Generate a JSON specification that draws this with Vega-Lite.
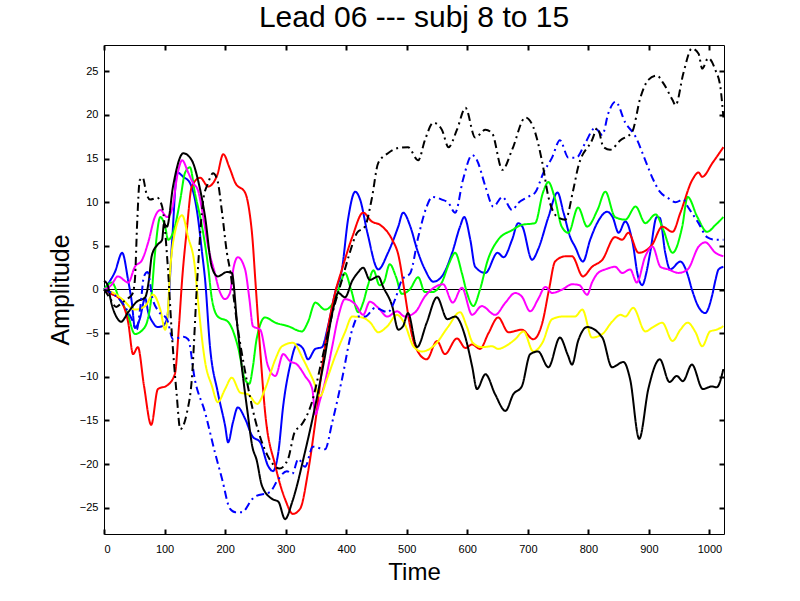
{
"$schema":"https://vega.github.io/schema/vega-lite/v6.json",
"width":620,"height":489,
"autosize":{"type":"none"},
"padding":{"left":104,"top":45,"right":76,"bottom":67},
"background":"white",
"title":{"text":"Lead 06 --- subj 8 to 15","font":"Liberation Sans","fontSize":30,"fontWeight":"normal","color":"black","anchor":"middle","offset":11},
"config":{
 "view":{"stroke":"black","strokeWidth":1}
},
"data":{"values":[
{"s":"b","t":0,"v":0},{"s":"b","t":10,"v":1},{"s":"b","t":18,"v":2},{"s":"b","t":30,"v":4.2},{"s":"b","t":40,"v":1},{"s":"b","t":46,"v":-1.5},{"s":"b","t":51,"v":-4.4},{"s":"b","t":59,"v":-3.4},{"s":"b","t":68,"v":-1},{"s":"b","t":73,"v":-2.6},{"s":"b","t":81,"v":-3.8},{"s":"b","t":88,"v":-4.3},{"s":"b","t":96,"v":-4.2},{"s":"b","t":104,"v":-3.4},{"s":"b","t":112,"v":5},{"s":"b","t":121,"v":13.4},{"s":"b","t":131,"v":12.9},{"s":"b","t":142,"v":12.2},{"s":"b","t":154,"v":8.8},{"s":"b","t":162,"v":4.2},{"s":"b","t":167,"v":1.1},{"s":"b","t":175,"v":-6.5},{"s":"b","t":188,"v":-11.8},{"s":"b","t":200,"v":-15.6},{"s":"b","t":205,"v":-17.5},{"s":"b","t":213,"v":-15.2},{"s":"b","t":221,"v":-13.5},{"s":"b","t":233,"v":-14.8},{"s":"b","t":245,"v":-16.8},{"s":"b","t":258,"v":-17.5},{"s":"b","t":271,"v":-20.2},{"s":"b","t":279,"v":-20.8},{"s":"b","t":288,"v":-18.6},{"s":"b","t":296,"v":-13.3},{"s":"b","t":307,"v":-8.8},{"s":"b","t":319,"v":-6.3},{"s":"b","t":329,"v":-6.8},{"s":"b","t":337,"v":-8},{"s":"b","t":349,"v":-6.8},{"s":"b","t":360,"v":-6.6},{"s":"b","t":370,"v":-4.2},{"s":"b","t":382,"v":-0.3},{"s":"b","t":393,"v":2.3},{"s":"b","t":403,"v":8},{"s":"b","t":415,"v":11.2},{"s":"b","t":423,"v":10.3},{"s":"b","t":435,"v":6.5},{"s":"b","t":453,"v":2.3},{"s":"b","t":469,"v":4.2},{"s":"b","t":486,"v":7.2},{"s":"b","t":494,"v":8.8},{"s":"b","t":506,"v":7.2},{"s":"b","t":517,"v":4.6},{"s":"b","t":530,"v":2.3},{"s":"b","t":544,"v":0.9},{"s":"b","t":558,"v":1.5},{"s":"b","t":575,"v":4.2},{"s":"b","t":588,"v":7.2},{"s":"b","t":595,"v":8.3},{"s":"b","t":605,"v":5.7},{"s":"b","t":613,"v":2.6},{"s":"b","t":630,"v":1.9},{"s":"b","t":650,"v":4.2},{"s":"b","t":660,"v":3.7},{"s":"b","t":674,"v":5.7},{"s":"b","t":684,"v":7.6},{"s":"b","t":691,"v":7.2},{"s":"b","t":707,"v":3.4},{"s":"b","t":717,"v":4.6},{"s":"b","t":734,"v":8.3},{"s":"b","t":749,"v":11.1},{"s":"b","t":759,"v":8.8},{"s":"b","t":770,"v":6},{"s":"b","t":778,"v":4.9},{"s":"b","t":791,"v":3.2},{"s":"b","t":803,"v":5.7},{"s":"b","t":816,"v":7.8},{"s":"b","t":831,"v":8.9},{"s":"b","t":840,"v":8.3},{"s":"b","t":850,"v":6.5},{"s":"b","t":861,"v":7.8},{"s":"b","t":873,"v":5.4},{"s":"b","t":882,"v":1.5},{"s":"b","t":889,"v":0.5},{"s":"b","t":896,"v":2},{"s":"b","t":902,"v":4.2},{"s":"b","t":913,"v":8.3},{"s":"b","t":918,"v":8.2},{"s":"b","t":927,"v":4.2},{"s":"b","t":935,"v":2.3},{"s":"b","t":952,"v":3.2},{"s":"b","t":963,"v":1.9},{"s":"b","t":971,"v":0},{"s":"b","t":982,"v":-2},{"s":"b","t":993,"v":-2.7},{"s":"b","t":1004,"v":-0.8},{"s":"b","t":1010,"v":1.1},{"s":"b","t":1015,"v":2.3},{"s":"b","t":1023,"v":2.6},
{"s":"g","t":0,"v":0},{"s":"g","t":13,"v":0.8},{"s":"g","t":25,"v":-1},{"s":"g","t":38,"v":-2.6},{"s":"g","t":51,"v":-5.1},{"s":"g","t":64,"v":-4.6},{"s":"g","t":72,"v":-3.5},{"s":"g","t":78,"v":-1},{"s":"g","t":84,"v":4},{"s":"g","t":93,"v":8.3},{"s":"g","t":101,"v":7.2},{"s":"g","t":106,"v":5.7},{"s":"g","t":117,"v":7.2},{"s":"g","t":126,"v":10.3},{"s":"g","t":134,"v":13.4},{"s":"g","t":142,"v":14},{"s":"g","t":150,"v":11.1},{"s":"g","t":162,"v":7.2},{"s":"g","t":172,"v":2.6},{"s":"g","t":178,"v":-1},{"s":"g","t":188,"v":-3.1},{"s":"g","t":205,"v":-3.7},{"s":"g","t":221,"v":-6.5},{"s":"g","t":233,"v":-10.3},{"s":"g","t":240,"v":-10.8},{"s":"g","t":246,"v":-8.8},{"s":"g","t":252,"v":-5.7},{"s":"g","t":266,"v":-3.2},{"s":"g","t":283,"v":-3.8},{"s":"g","t":304,"v":-4.2},{"s":"g","t":327,"v":-4.8},{"s":"g","t":337,"v":-3.7},{"s":"g","t":349,"v":-1.5},{"s":"g","t":365,"v":-2.3},{"s":"g","t":382,"v":-1.1},{"s":"g","t":392,"v":1},{"s":"g","t":398,"v":1.9},{"s":"g","t":408,"v":0},{"s":"g","t":420,"v":-2.6},{"s":"g","t":428,"v":-1.5},{"s":"g","t":436,"v":0.5},{"s":"g","t":445,"v":2.2},{"s":"g","t":455,"v":0.5},{"s":"g","t":462,"v":0.8},{"s":"g","t":472,"v":2.9},{"s":"g","t":482,"v":1.5},{"s":"g","t":492,"v":-0.5},{"s":"g","t":505,"v":0},{"s":"g","t":519,"v":1.4},{"s":"g","t":530,"v":-0.3},{"s":"g","t":542,"v":-0.3},{"s":"g","t":558,"v":0.8},{"s":"g","t":570,"v":3},{"s":"g","t":580,"v":4.2},{"s":"g","t":591,"v":1.9},{"s":"g","t":600,"v":-0.5},{"s":"g","t":610,"v":-1.9},{"s":"g","t":621,"v":0},{"s":"g","t":634,"v":3.4},{"s":"g","t":651,"v":5.7},{"s":"g","t":674,"v":6.8},{"s":"g","t":690,"v":7.4},{"s":"g","t":712,"v":7.6},{"s":"g","t":725,"v":11.1},{"s":"g","t":734,"v":12.3},{"s":"g","t":744,"v":10.6},{"s":"g","t":756,"v":7.2},{"s":"g","t":767,"v":6.5},{"s":"g","t":783,"v":9.4},{"s":"g","t":798,"v":7.2},{"s":"g","t":815,"v":9.1},{"s":"g","t":828,"v":11.2},{"s":"g","t":844,"v":8.3},{"s":"g","t":861,"v":8},{"s":"g","t":878,"v":9.5},{"s":"g","t":894,"v":7.6},{"s":"g","t":911,"v":8.6},{"s":"g","t":924,"v":6.8},{"s":"g","t":939,"v":4.2},{"s":"g","t":955,"v":7.2},{"s":"g","t":964,"v":10.6},{"s":"g","t":980,"v":8.3},{"s":"g","t":996,"v":6.6},{"s":"g","t":1010,"v":7.4},{"s":"g","t":1023,"v":8.3},
{"s":"r","t":0,"v":0},{"s":"r","t":12,"v":-0.5},{"s":"r","t":26,"v":-1.1},{"s":"r","t":33,"v":-2},{"s":"r","t":40,"v":-3.8},{"s":"r","t":48,"v":-7.4},{"s":"r","t":56,"v":-6.6},{"s":"r","t":66,"v":-11},{"s":"r","t":78,"v":-15.5},{"s":"r","t":89,"v":-11.4},{"s":"r","t":104,"v":-11},{"s":"r","t":117,"v":-9.7},{"s":"r","t":124,"v":-4},{"s":"r","t":129,"v":1.1},{"s":"r","t":137,"v":7},{"s":"r","t":145,"v":11.8},{"s":"r","t":159,"v":12.8},{"s":"r","t":172,"v":11.8},{"s":"r","t":187,"v":13.1},{"s":"r","t":197,"v":15.5},{"s":"r","t":207,"v":14},{"s":"r","t":217,"v":12.2},{"s":"r","t":233,"v":11.1},{"s":"r","t":240,"v":9},{"s":"r","t":245,"v":6},{"s":"r","t":250,"v":1},{"s":"r","t":258,"v":-7},{"s":"r","t":266,"v":-14},{"s":"r","t":283,"v":-20.2},{"s":"r","t":299,"v":-24},{"s":"r","t":312,"v":-25.7},{"s":"r","t":324,"v":-25.1},{"s":"r","t":337,"v":-20.9},{"s":"r","t":349,"v":-15.2},{"s":"r","t":365,"v":-6.5},{"s":"r","t":382,"v":-0.3},{"s":"r","t":393,"v":2.3},{"s":"r","t":410,"v":6},{"s":"r","t":428,"v":8.8},{"s":"r","t":442,"v":7.8},{"s":"r","t":456,"v":7.4},{"s":"r","t":476,"v":5.7},{"s":"r","t":486,"v":4},{"s":"r","t":497,"v":-0.5},{"s":"r","t":505,"v":-4},{"s":"r","t":514,"v":-6.5},{"s":"r","t":533,"v":-8},{"s":"r","t":550,"v":-5.9},{"s":"r","t":563,"v":-7.4},{"s":"r","t":583,"v":-5.6},{"s":"r","t":597,"v":-6.7},{"s":"r","t":608,"v":-6.3},{"s":"r","t":621,"v":-6.8},{"s":"r","t":635,"v":-5},{"s":"r","t":651,"v":-3.2},{"s":"r","t":668,"v":-4.9},{"s":"r","t":690,"v":-4.6},{"s":"r","t":709,"v":-5.7},{"s":"r","t":724,"v":-3.8},{"s":"r","t":735,"v":0},{"s":"r","t":745,"v":3.2},{"s":"r","t":762,"v":3.8},{"s":"r","t":773,"v":3.8},{"s":"r","t":791,"v":1.5},{"s":"r","t":806,"v":2.6},{"s":"r","t":823,"v":3.4},{"s":"r","t":844,"v":6},{"s":"r","t":856,"v":5.7},{"s":"r","t":866,"v":6.5},{"s":"r","t":883,"v":4.2},{"s":"r","t":905,"v":5.1},{"s":"r","t":922,"v":7.2},{"s":"r","t":939,"v":6.6},{"s":"r","t":952,"v":8.8},{"s":"r","t":972,"v":12.6},{"s":"r","t":982,"v":13.4},{"s":"r","t":988,"v":12.9},{"s":"r","t":1005,"v":14.5},{"s":"r","t":1023,"v":16.3},
{"s":"m","t":0,"v":0},{"s":"m","t":12,"v":0.5},{"s":"m","t":23,"v":1.5},{"s":"m","t":40,"v":0.8},{"s":"m","t":51,"v":2.6},{"s":"m","t":63,"v":3.4},{"s":"m","t":73,"v":5.4},{"s":"m","t":84,"v":8.3},{"s":"m","t":93,"v":9.1},{"s":"m","t":104,"v":8.3},{"s":"m","t":112,"v":9.1},{"s":"m","t":122,"v":13.4},{"s":"m","t":129,"v":14.8},{"s":"m","t":139,"v":13.4},{"s":"m","t":147,"v":12.2},{"s":"m","t":155,"v":11.4},{"s":"m","t":164,"v":8.3},{"s":"m","t":172,"v":4.9},{"s":"m","t":183,"v":1.9},{"s":"m","t":190,"v":0},{"s":"m","t":200,"v":-1.1},{"s":"m","t":208,"v":-0.4},{"s":"m","t":214,"v":2.5},{"s":"m","t":221,"v":3.7},{"s":"m","t":233,"v":2.3},{"s":"m","t":240,"v":-1},{"s":"m","t":246,"v":-4.2},{"s":"m","t":258,"v":-4.6},{"s":"m","t":271,"v":-8.8},{"s":"m","t":283,"v":-9.9},{"s":"m","t":296,"v":-7.4},{"s":"m","t":307,"v":-8.2},{"s":"m","t":319,"v":-8.6},{"s":"m","t":332,"v":-9.9},{"s":"m","t":344,"v":-11.4},{"s":"m","t":349,"v":-14.3},{"s":"m","t":357,"v":-12.6},{"s":"m","t":365,"v":-10.6},{"s":"m","t":377,"v":-6.5},{"s":"m","t":387,"v":-3.1},{"s":"m","t":398,"v":-1.1},{"s":"m","t":415,"v":-1.7},{"s":"m","t":428,"v":-2.9},{"s":"m","t":439,"v":-1.4},{"s":"m","t":453,"v":-2.1},{"s":"m","t":468,"v":-3.1},{"s":"m","t":484,"v":-2.5},{"s":"m","t":497,"v":-3.1},{"s":"m","t":514,"v":-2.6},{"s":"m","t":530,"v":-0.8},{"s":"m","t":547,"v":0.3},{"s":"m","t":560,"v":0.6},{"s":"m","t":576,"v":-1.5},{"s":"m","t":591,"v":0.2},{"s":"m","t":608,"v":-2.9},{"s":"m","t":624,"v":-1.9},{"s":"m","t":646,"v":-2.9},{"s":"m","t":663,"v":-1.5},{"s":"m","t":679,"v":-0.4},{"s":"m","t":690,"v":-0.8},{"s":"m","t":704,"v":-2.5},{"s":"m","t":717,"v":-1.1},{"s":"m","t":729,"v":0.3},{"s":"m","t":740,"v":-0.4},{"s":"m","t":757,"v":0},{"s":"m","t":773,"v":0.6},{"s":"m","t":785,"v":0.5},{"s":"m","t":798,"v":-0.6},{"s":"m","t":806,"v":0.8},{"s":"m","t":816,"v":1.9},{"s":"m","t":828,"v":2.3},{"s":"m","t":844,"v":2.6},{"s":"m","t":856,"v":1.9},{"s":"m","t":869,"v":2.3},{"s":"m","t":880,"v":0.8},{"s":"m","t":894,"v":3.8},{"s":"m","t":906,"v":4.9},{"s":"m","t":919,"v":2.6},{"s":"m","t":932,"v":2.3},{"s":"m","t":949,"v":1.9},{"s":"m","t":964,"v":2.3},{"s":"m","t":982,"v":4.9},{"s":"m","t":993,"v":5.4},{"s":"m","t":1010,"v":4.2},{"s":"m","t":1023,"v":3.8},
{"s":"y","t":0,"v":0},{"s":"y","t":13,"v":-0.3},{"s":"y","t":30,"v":-1.1},{"s":"y","t":51,"v":-2.3},{"s":"y","t":68,"v":-1.9},{"s":"y","t":81,"v":-0.6},{"s":"y","t":93,"v":-2.3},{"s":"y","t":101,"v":-4.6},{"s":"y","t":105,"v":-3},{"s":"y","t":109,"v":1.9},{"s":"y","t":117,"v":6.5},{"s":"y","t":129,"v":8.5},{"s":"y","t":139,"v":6},{"s":"y","t":150,"v":2.6},{"s":"y","t":155,"v":-1.1},{"s":"y","t":167,"v":-8.3},{"s":"y","t":178,"v":-11},{"s":"y","t":188,"v":-12.9},{"s":"y","t":200,"v":-11.4},{"s":"y","t":211,"v":-10.1},{"s":"y","t":225,"v":-11.8},{"s":"y","t":238,"v":-12},{"s":"y","t":253,"v":-13.1},{"s":"y","t":266,"v":-11.4},{"s":"y","t":283,"v":-8},{"s":"y","t":294,"v":-6.5},{"s":"y","t":312,"v":-6.1},{"s":"y","t":329,"v":-8},{"s":"y","t":345,"v":-10.3},{"s":"y","t":357,"v":-12.2},{"s":"y","t":368,"v":-10.3},{"s":"y","t":382,"v":-7.6},{"s":"y","t":398,"v":-4.9},{"s":"y","t":410,"v":-3.1},{"s":"y","t":426,"v":-3.2},{"s":"y","t":440,"v":-3.8},{"s":"y","t":453,"v":-4.9},{"s":"y","t":468,"v":-4.2},{"s":"y","t":484,"v":-2.9},{"s":"y","t":497,"v":-4},{"s":"y","t":511,"v":-6.5},{"s":"y","t":525,"v":-7.1},{"s":"y","t":547,"v":-6.3},{"s":"y","t":568,"v":-4.3},{"s":"y","t":588,"v":-2.6},{"s":"y","t":599,"v":-4.2},{"s":"y","t":609,"v":-6.1},{"s":"y","t":624,"v":-6.6},{"s":"y","t":641,"v":-6.5},{"s":"y","t":651,"v":-6.8},{"s":"y","t":663,"v":-6.5},{"s":"y","t":679,"v":-5.7},{"s":"y","t":693,"v":-4.8},{"s":"y","t":709,"v":-7.1},{"s":"y","t":724,"v":-6.1},{"s":"y","t":740,"v":-3.4},{"s":"y","t":757,"v":-3.1},{"s":"y","t":778,"v":-3.1},{"s":"y","t":790,"v":-2.3},{"s":"y","t":806,"v":-5.5},{"s":"y","t":823,"v":-5.1},{"s":"y","t":839,"v":-3.7},{"s":"y","t":853,"v":-2.9},{"s":"y","t":861,"v":-3.1},{"s":"y","t":874,"v":-2.1},{"s":"y","t":894,"v":-4.8},{"s":"y","t":907,"v":-4.3},{"s":"y","t":922,"v":-3.8},{"s":"y","t":939,"v":-5.9},{"s":"y","t":952,"v":-4.6},{"s":"y","t":964,"v":-3.8},{"s":"y","t":977,"v":-4.9},{"s":"y","t":988,"v":-6.5},{"s":"y","t":1001,"v":-4.8},{"s":"y","t":1012,"v":-4.6},{"s":"y","t":1023,"v":-4.2},
{"s":"k","t":0,"v":1},{"s":"k","t":6,"v":0.5},{"s":"k","t":12,"v":-1.5},{"s":"k","t":23,"v":-3.4},{"s":"k","t":28,"v":-3.7},{"s":"k","t":40,"v":-2.6},{"s":"k","t":54,"v":-1.4},{"s":"k","t":68,"v":-0.9},{"s":"k","t":74,"v":1},{"s":"k","t":79,"v":3.9},{"s":"k","t":88,"v":5.1},{"s":"k","t":96,"v":5.7},{"s":"k","t":99,"v":7.5},{"s":"k","t":104,"v":7.2},{"s":"k","t":114,"v":11.8},{"s":"k","t":131,"v":15.6},{"s":"k","t":145,"v":14.8},{"s":"k","t":155,"v":12.6},{"s":"k","t":167,"v":8.3},{"s":"k","t":178,"v":2.6},{"s":"k","t":188,"v":1.5},{"s":"k","t":203,"v":2},{"s":"k","t":211,"v":1.9},{"s":"k","t":220,"v":-4},{"s":"k","t":228,"v":-9.1},{"s":"k","t":237,"v":-14},{"s":"k","t":245,"v":-18},{"s":"k","t":252,"v":-19.5},{"s":"k","t":261,"v":-22.5},{"s":"k","t":278,"v":-24},{"s":"k","t":288,"v":-24.3},{"s":"k","t":299,"v":-26.3},{"s":"k","t":311,"v":-24.3},{"s":"k","t":332,"v":-18.6},{"s":"k","t":349,"v":-13.3},{"s":"k","t":365,"v":-7.6},{"s":"k","t":377,"v":-2.7},{"s":"k","t":387,"v":-0.4},{"s":"k","t":398,"v":-0.9},{"s":"k","t":410,"v":1},{"s":"k","t":420,"v":2},{"s":"k","t":428,"v":2.5},{"s":"k","t":439,"v":1.1},{"s":"k","t":453,"v":1.5},{"s":"k","t":461,"v":0.3},{"s":"k","t":476,"v":-1.9},{"s":"k","t":486,"v":-4.6},{"s":"k","t":494,"v":-4.2},{"s":"k","t":502,"v":-2.7},{"s":"k","t":517,"v":-6.6},{"s":"k","t":533,"v":-3.8},{"s":"k","t":550,"v":-0.9},{"s":"k","t":567,"v":-3.4},{"s":"k","t":580,"v":-3.1},{"s":"k","t":597,"v":-5.5},{"s":"k","t":608,"v":-8.8},{"s":"k","t":616,"v":-11.4},{"s":"k","t":630,"v":-9.7},{"s":"k","t":646,"v":-12},{"s":"k","t":663,"v":-13.9},{"s":"k","t":676,"v":-12},{"s":"k","t":690,"v":-11.1},{"s":"k","t":704,"v":-7.4},{"s":"k","t":717,"v":-7.1},{"s":"k","t":734,"v":-8.9},{"s":"k","t":753,"v":-5.5},{"s":"k","t":766,"v":-7.5},{"s":"k","t":773,"v":-8.6},{"s":"k","t":783,"v":-5.9},{"s":"k","t":798,"v":-4.3},{"s":"k","t":823,"v":-5.5},{"s":"k","t":839,"v":-8.9},{"s":"k","t":858,"v":-8.3},{"s":"k","t":869,"v":-10.3},{"s":"k","t":884,"v":-17.1},{"s":"k","t":899,"v":-11.4},{"s":"k","t":918,"v":-8},{"s":"k","t":934,"v":-10.6},{"s":"k","t":946,"v":-9.9},{"s":"k","t":956,"v":-10.5},{"s":"k","t":971,"v":-8.6},{"s":"k","t":989,"v":-11.4},{"s":"k","t":1004,"v":-11.1},{"s":"k","t":1012,"v":-11.2},{"s":"k","t":1023,"v":-9.1},
{"s":"bd","t":0,"v":0},{"s":"bd","t":15,"v":-0.5},{"s":"bd","t":30,"v":-1.5},{"s":"bd","t":46,"v":-3.4},{"s":"bd","t":54,"v":-4.6},{"s":"bd","t":60,"v":-2},{"s":"bd","t":66,"v":1.5},{"s":"bd","t":72,"v":2},{"s":"bd","t":80,"v":-1},{"s":"bd","t":90,"v":-2.5},{"s":"bd","t":104,"v":-3.4},{"s":"bd","t":114,"v":-5.7},{"s":"bd","t":131,"v":-5.4},{"s":"bd","t":139,"v":-5.7},{"s":"bd","t":150,"v":-10.3},{"s":"bd","t":167,"v":-14.1},{"s":"bd","t":183,"v":-18.6},{"s":"bd","t":195,"v":-21.7},{"s":"bd","t":208,"v":-25.1},{"s":"bd","t":217,"v":-25.5},{"s":"bd","t":228,"v":-25.5},{"s":"bd","t":245,"v":-24},{"s":"bd","t":250,"v":-23.7},{"s":"bd","t":274,"v":-23.2},{"s":"bd","t":288,"v":-21.7},{"s":"bd","t":302,"v":-20.8},{"s":"bd","t":311,"v":-21.1},{"s":"bd","t":321,"v":-19.4},{"s":"bd","t":332,"v":-20.3},{"s":"bd","t":345,"v":-18},{"s":"bd","t":365,"v":-18.3},{"s":"bd","t":377,"v":-15.2},{"s":"bd","t":393,"v":-10.3},{"s":"bd","t":410,"v":-4.6},{"s":"bd","t":420,"v":-3.1},{"s":"bd","t":431,"v":-3.1},{"s":"bd","t":448,"v":-2.1},{"s":"bd","t":469,"v":-2.6},{"s":"bd","t":481,"v":-1.1},{"s":"bd","t":492,"v":1.1},{"s":"bd","t":506,"v":1.9},{"s":"bd","t":519,"v":6},{"s":"bd","t":533,"v":9.5},{"s":"bd","t":542,"v":10.6},{"s":"bd","t":558,"v":10.3},{"s":"bd","t":569,"v":9.9},{"s":"bd","t":580,"v":8.8},{"s":"bd","t":593,"v":12.6},{"s":"bd","t":608,"v":15.4},{"s":"bd","t":616,"v":14.8},{"s":"bd","t":630,"v":11.8},{"s":"bd","t":643,"v":9.5},{"s":"bd","t":658,"v":10.6},{"s":"bd","t":674,"v":9.1},{"s":"bd","t":684,"v":9.9},{"s":"bd","t":700,"v":10.6},{"s":"bd","t":712,"v":11.1},{"s":"bd","t":726,"v":13.4},{"s":"bd","t":740,"v":15.1},{"s":"bd","t":753,"v":17.1},{"s":"bd","t":767,"v":15.1},{"s":"bd","t":780,"v":15.1},{"s":"bd","t":795,"v":16.8},{"s":"bd","t":811,"v":18.5},{"s":"bd","t":823,"v":17.7},{"s":"bd","t":833,"v":20.2},{"s":"bd","t":845,"v":21.5},{"s":"bd","t":861,"v":19.1},{"s":"bd","t":878,"v":17.5},{"s":"bd","t":894,"v":14.8},{"s":"bd","t":907,"v":12.6},{"s":"bd","t":918,"v":11.2},{"s":"bd","t":931,"v":10.5},{"s":"bd","t":944,"v":10},{"s":"bd","t":957,"v":10.3},{"s":"bd","t":964,"v":9.5},{"s":"bd","t":982,"v":7.6},{"s":"bd","t":996,"v":6},{"s":"bd","t":1010,"v":5.7},{"s":"bd","t":1023,"v":5.7},
{"s":"kd","t":0,"v":0},{"s":"kd","t":10,"v":-1},{"s":"kd","t":20,"v":-2},{"s":"kd","t":30,"v":-1.5},{"s":"kd","t":40,"v":-1},{"s":"kd","t":47,"v":-0.5},{"s":"kd","t":51,"v":1.1},{"s":"kd","t":55,"v":8},{"s":"kd","t":59,"v":12.5},{"s":"kd","t":64,"v":12.8},{"s":"kd","t":70,"v":11},{"s":"kd","t":76,"v":10.3},{"s":"kd","t":88,"v":10.5},{"s":"kd","t":96,"v":9.5},{"s":"kd","t":105,"v":3},{"s":"kd","t":112,"v":-5},{"s":"kd","t":120,"v":-12},{"s":"kd","t":126,"v":-16},{"s":"kd","t":131,"v":-15.6},{"s":"kd","t":137,"v":-14.1},{"s":"kd","t":145,"v":-10.3},{"s":"kd","t":154,"v":1.1},{"s":"kd","t":164,"v":10.3},{"s":"kd","t":172,"v":12.2},{"s":"kd","t":180,"v":13.3},{"s":"kd","t":187,"v":12.6},{"s":"kd","t":195,"v":8.8},{"s":"kd","t":203,"v":4.2},{"s":"kd","t":208,"v":2.3},{"s":"kd","t":220,"v":-4},{"s":"kd","t":232,"v":-9},{"s":"kd","t":250,"v":-15},{"s":"kd","t":270,"v":-19},{"s":"kd","t":290,"v":-20.5},{"s":"kd","t":304,"v":-19.4},{"s":"kd","t":315,"v":-16.3},{"s":"kd","t":325,"v":-15.6},{"s":"kd","t":343,"v":-13},{"s":"kd","t":360,"v":-8},{"s":"kd","t":380,"v":-2},{"s":"kd","t":393,"v":1.1},{"s":"kd","t":405,"v":4},{"s":"kd","t":418,"v":6.5},{"s":"kd","t":431,"v":7.2},{"s":"kd","t":442,"v":10.3},{"s":"kd","t":453,"v":14.5},{"s":"kd","t":469,"v":15.6},{"s":"kd","t":486,"v":16.2},{"s":"kd","t":502,"v":16.3},{"s":"kd","t":519,"v":14.8},{"s":"kd","t":530,"v":17.1},{"s":"kd","t":544,"v":19.1},{"s":"kd","t":558,"v":18.3},{"s":"kd","t":569,"v":16.3},{"s":"kd","t":583,"v":18.3},{"s":"kd","t":597,"v":20.8},{"s":"kd","t":613,"v":17.4},{"s":"kd","t":630,"v":18.3},{"s":"kd","t":641,"v":17.9},{"s":"kd","t":658,"v":13.7},{"s":"kd","t":674,"v":16},{"s":"kd","t":696,"v":19.7},{"s":"kd","t":709,"v":18.6},{"s":"kd","t":724,"v":14.5},{"s":"kd","t":734,"v":10.6},{"s":"kd","t":749,"v":8.3},{"s":"kd","t":762,"v":8},{"s":"kd","t":775,"v":11.4},{"s":"kd","t":783,"v":14},{"s":"kd","t":806,"v":17.1},{"s":"kd","t":815,"v":18.5},{"s":"kd","t":825,"v":16.3},{"s":"kd","t":836,"v":16},{"s":"kd","t":853,"v":17.1},{"s":"kd","t":872,"v":18},{"s":"kd","t":886,"v":22},{"s":"kd","t":899,"v":24},{"s":"kd","t":913,"v":24.5},{"s":"kd","t":924,"v":23.6},{"s":"kd","t":939,"v":21.7},{"s":"kd","t":944,"v":21.1},{"s":"kd","t":957,"v":24.8},{"s":"kd","t":971,"v":27.6},{"s":"kd","t":982,"v":27},{"s":"kd","t":988,"v":25.3},{"s":"kd","t":998,"v":26.5},{"s":"kd","t":1010,"v":25.1},{"s":"kd","t":1018,"v":23.2},{"s":"kd","t":1023,"v":19.7}
]},
"layer":[
 {"mark":{"type":"rule","color":"black","strokeWidth":1},
  "encoding":{"y":{"datum":0,"type":"quantitative","scale":{"domain":[-28,28],"nice":false,"zero":false},"axis":null}}},
 {"mark":{"type":"line","strokeWidth":2,"interpolate":"monotone"},
  "encoding":{
   "x":{"field":"t","type":"quantitative","scale":{"domain":[0,1024],"nice":false,"zero":false},
        "axis":{"orient":"bottom","zindex":1,"values":[0,100,200,300,400,500,600,700,800,900,1000],"format":"d","domain":false,"grid":false,"ticks":true,"tickSize":5,"tickColor":"black","tickWidth":2,"offset":-5,"labelPadding":9,"labelFont":"Liberation Sans","labelFontSize":11,"labelColor":"black","title":"Time","titleFont":"Liberation Sans","titleFontWeight":"normal","titleColor":"black","titleFontSize":24,"titlePadding":6}},
   "y":{"field":"v","type":"quantitative","scale":{"domain":[-28,28],"nice":false,"zero":false},
        "axis":{"orient":"left","zindex":1,"values":[-25,-20,-15,-10,-5,0,5,10,15,20,25],"format":"d","domain":false,"grid":false,"ticks":true,"tickSize":5,"tickColor":"black","tickWidth":2,"offset":-5,"labelPadding":6,"labelFont":"Liberation Sans","labelFontSize":11,"labelColor":"black","title":"Amplitude","titleFont":"Liberation Sans","titleFontWeight":"normal","titleColor":"black","titleFontSize":25,"titlePadding":6}},
   "color":{"field":"s","type":"nominal","legend":null,
     "scale":{"domain":["b","g","r","m","y","k","bd","kd"],"range":["#0000ff","#00ff00","#ff0000","#ff00ff","#ffff00","#000000","#0000ff","#000000"]}},
   "strokeDash":{"field":"s","type":"nominal","legend":null,
     "scale":{"domain":["b","g","r","m","y","k","bd","kd"],"range":[[1,0],[1,0],[1,0],[1,0],[1,0],[1,0],[8,4,2,4],[8,4,2,4]]}}
  }},
 {"data":{"values":[{"t":0,"v":0}]},
  "mark":{"type":"point","opacity":0},
  "encoding":{
   "x":{"field":"t","type":"quantitative","scale":{"domain":[0,1024],"nice":false,"zero":false},
        "axis":{"orient":"top","zindex":1,"values":[0,100,200,300,400,500,600,700,800,900,1000],"labels":false,"title":null,"domain":false,"grid":false,"ticks":true,"tickSize":5,"tickColor":"black","tickWidth":2,"offset":-5}},
   "y":{"field":"v","type":"quantitative","scale":{"domain":[-28,28],"nice":false,"zero":false},
        "axis":{"orient":"right","zindex":1,"values":[-25,-20,-15,-10,-5,0,5,10,15,20,25],"labels":false,"title":null,"domain":false,"grid":false,"ticks":true,"tickSize":5,"tickColor":"black","tickWidth":2,"offset":-5}}
  }}
],
"resolve":{"axis":{"x":"independent","y":"independent"}}
}
